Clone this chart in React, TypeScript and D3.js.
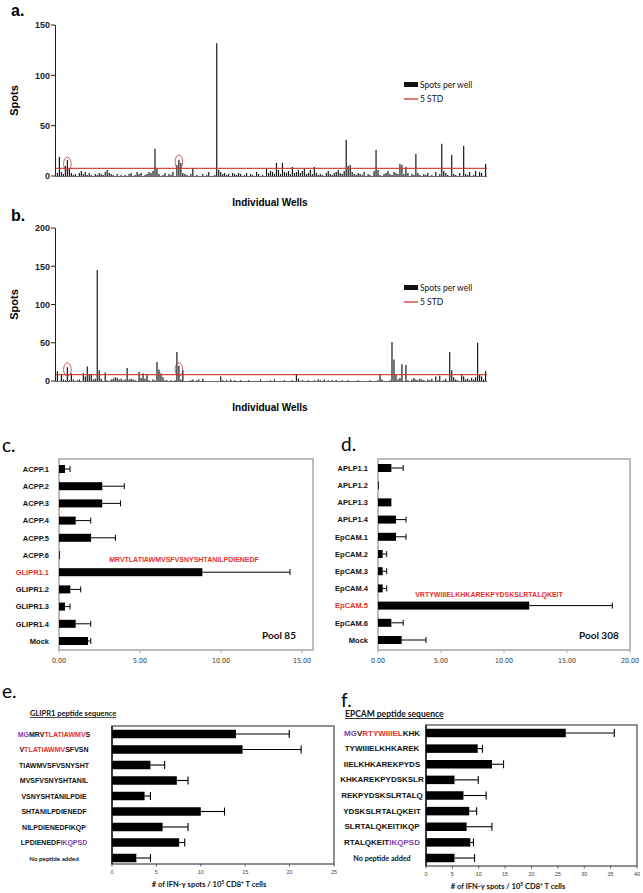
import React from "react";
import * as d3 from "d3";

// ---------- Panel a / b: spots per well ----------
const wellsA = [
  3, 19, 4, 2, 10, 16, 8, 3, 1, 2, 0, 3,
  5, 2, 4, 1, 3, 1, 0, 2, 1, 3, 2, 1,
  4, 6, 3, 2, 1, 0, 2, 0, 1, 0, 1, 0,
  2, 3, 0, 1, 4, 2, 3, 0, 1, 2, 4, 3,
  5, 27, 8, 2, 0, 1, 3, 0, 2, 1, 4, 0,
  11, 16, 13, 3, 2, 1, 0, 2, 8, 0, 1, 0,
  0, 2, 0, 1, 4, 0, 0, 1, 132, 6, 4, 2,
  3, 1, 2, 0, 3, 2, 1, 3, 2, 0, 1, 3,
  0, 2, 1, 0, 4, 2, 0, 1, 0, 7, 3, 5,
  4, 2, 13, 6, 2, 13, 4, 3, 5, 2, 9, 3,
  4, 6, 3, 5, 8, 2, 3, 6, 2, 9, 3, 1,
  2, 1, 0, 3, 5, 2, 1, 3, 4, 6, 3, 2,
  5, 36, 10, 11, 4, 2, 1, 3, 2, 1, 4, 0,
  2, 1, 0, 5, 26, 6, 1, 0, 2, 3, 5, 2,
  1, 4, 3, 2, 12, 11, 2, 9, 3, 0, 2, 1,
  22, 3, 1, 0, 2, 1, 3, 0, 1, 0, 4, 0,
  2, 32, 5, 3, 1, 0, 21, 2, 1, 0, 3, 0,
  30, 2, 1, 4, 0, 1, 5, 0, 4, 3, 0, 12,
];
const wellsB = [
  13, 0, 8, 2, 1, 18, 1, 10, 2, 0, 1, 2,
  0, 10, 6, 19, 9, 9, 2, 3, 145, 14, 3, 0,
  11, 1, 0, 2, 3, 5, 4, 2, 3, 1, 2, 17,
  2, 3, 2, 1, 0, 12, 4, 10, 3, 9, 1, 0,
  2, 1, 25, 15, 10, 5, 1, 1, 0, 1, 0, 1,
  38, 20, 2, 14, 0, 0, 0, 1, 2, 0, 1, 2,
  0, 3, 0, 0, 0, 0, 0, 0, 0, 0, 6, 1,
  0, 1, 0, 2, 0, 1, 0, 0, 1, 0, 0, 0,
  1, 0, 0, 0, 0, 0, 2, 0, 0, 0, 0, 1,
  0, 2, 0, 0, 0, 0, 1, 0, 0, 0, 1, 0,
  9, 3, 0, 1, 0, 0, 1, 0, 0, 1, 0, 2,
  1, 0, 2, 0, 1, 0, 1, 0, 1, 0, 0, 1,
  0, 0, 1, 0, 0, 0, 0, 1, 0, 0, 0, 0,
  0, 1, 0, 0, 0, 1, 9, 2, 0, 0, 0, 1,
  51, 28, 8, 2, 4, 22, 0, 21, 1, 0, 2, 4,
  2, 1, 3, 2, 1, 0, 2, 1, 3, 0, 6, 1,
  7, 0, 1, 3, 0, 38, 14, 5, 2, 1, 0, 9,
  6, 2, 3, 1, 4, 2, 5, 50, 8, 6, 2, 13,
];
const thresholdA = 7.6;
const thresholdB = 8.3;
const ticksA = [0, 50, 100, 150];
const ticksB = [0, 50, 100, 150, 200];
// circled wells: [index, value]
const circlesA = [[5, 12], [61, 14]];
const circlesB = [[5, 15], [61, 15]];

// ---------- Panel c ----------
const labelsC = ["ACPP.1", "ACPP.2", "ACPP.3", "ACPP.4", "ACPP.5", "ACPP.6", "GLIPR1.1", "GLIPR1.2", "GLIPR1.3", "GLIPR1.4", "Mock"];
const valuesC = [0.37, 2.67, 2.67, 1.03, 1.98, 0, 8.85, 0.7, 0.37, 1.03, 1.79];
const errorsC = [0.31, 1.36, 1.13, 0.93, 1.5, 0, 5.41, 0.64, 0.31, 0.93, 0.17];
const ticksC = [0, 5, 10, 15];

// ---------- Panel d ----------
const labelsD = ["APLP1.1", "APLP1.2", "APLP1.3", "APLP1.4", "EpCAM.1", "EpCAM.2", "EpCAM.3", "EpCAM.4", "EpCAM.5", "EpCAM.6", "Mock"];
const valuesD = [1.06, 0, 1.06, 1.43, 1.43, 0.37, 0.37, 0.37, 12.0, 1.06, 1.88];
const errorsD = [0.94, 0, 0, 0.79, 0.79, 0.32, 0.32, 0.32, 6.6, 0.94, 1.93];
const ticksD = [0, 5, 10, 15, 20];

// ---------- Panel e ----------
const PURPLE = "#7b3fa8";
const RED = "#e8302a";
const labelsE = [
  [["MG", PURPLE], ["MRV", "#111"], ["TLATIAWMV", RED], ["S", "#111"]],
  [["V", "#111"], ["TLATIAWMV", RED], ["SFVSN", "#111"]],
  [["TIAWMVSFVSNYSHT", "#111"]],
  [["MVSFVSNYSHTANIL", "#111"]],
  [["VSNYSHTANILPDIE", "#111"]],
  [["SHTANILPDIENEDF", "#111"]],
  [["NILPDIENEDFIKQP", "#111"]],
  [["LPDIENEDF", "#111"], ["IKQPSD", PURPLE]],
  [["No peptide added", "#111"]],
];
const valuesE = [13.96, 14.7, 4.33, 7.3, 3.67, 10.0, 5.7, 7.56, 2.74];
const errorsE = [6.0, 6.6, 1.6, 1.26, 0.66, 2.67, 2.86, 0.63, 1.59];
const ticksE = [0, 5, 10, 15, 20, 25];

// ---------- Panel f ----------
const labelsF = [
  [["MG", PURPLE], ["V", "#111"], ["RTYWIIIEL", RED], ["KHK", "#111"]],
  [["TYWIIIELKHKAREK", "#111"]],
  [["IIELKHKAREKPYDS", "#111"]],
  [["KHKAREKPYDSKSLR", "#111"]],
  [["REKPYDSKSLRTALQ", "#111"]],
  [["YDSKSLRTALQKEIT", "#111"]],
  [["SLRTALQKEITIKQP", "#111"]],
  [["RTALQKEIT", "#111"], ["IKQPSD", PURPLE]],
  [["No peptide added", "#111"]],
];
const valuesF = [26.5, 9.8, 12.5, 5.4, 7.1, 8.2, 7.7, 8.4, 5.4];
const errorsF = [9.2, 0.9, 2.2, 4.5, 4.3, 1.4, 4.8, 0.6, 3.8];
const ticksF = [0, 5, 10, 15, 20, 25, 30, 35, 40];

const ARIAL = "Liberation Sans, Arial, sans-serif";
const NARROW = "Liberation Sans Narrow, DejaVu Sans Condensed, Arial, sans-serif";
const LATO = "Lato, Carlito, sans-serif";

function SpotsPanel({ data, ticks, yMax, top, bottom, threshold, circles, letter, letterY, wellsY }) {
  const x = d3.scaleBand().domain(d3.range(data.length)).range([56, 487]).padding(0.42);
  const y = d3.scaleLinear().domain([0, yMax]).range([bottom, top]);
  return (
    <g>
      <text x={11} y={letterY} fontFamily={ARIAL} fontWeight="bold" fontSize={16}>{letter}</text>
      {data.map((v, i) => (
        <rect key={i} x={x(i)} width={x.bandwidth()} y={y(v)} height={bottom - y(v)} fill="#111" />
      ))}
      <line x1={55} x2={487} y1={bottom + 0.5} y2={bottom + 0.5} stroke="#666" strokeWidth={1} />
      <line x1={55} x2={487} y1={y(threshold)} y2={y(threshold)} stroke="#d0342f" strokeWidth={1.4} strokeOpacity={0.9} />
      <line x1={55.5} x2={55.5} y1={top} y2={bottom} stroke="#222" strokeWidth={1} />
      {ticks.map((t) => (
        <g key={t}>
          <line x1={51} x2={55} y1={y(t)} y2={y(t)} stroke="#222" />
          <text x={50} y={y(t) + 3.3} textAnchor="end" fontFamily={ARIAL} fontWeight="bold" fontSize={9} fill="#222">{t}</text>
        </g>
      ))}
      {circles.map(([i, v], k) => (
        <ellipse key={k} cx={x(i) + x.bandwidth() / 2} cy={y(v)} rx={3.8} ry={6.8} fill="none" stroke="#b83a3a" strokeWidth={0.8} />
      ))}
      <text transform={`translate(18,${(top + bottom) / 2}) rotate(-90)`} textAnchor="middle" fontFamily={ARIAL} fontWeight="bold" fontSize={11}>Spots</text>
      <text x={270} y={wellsY} textAnchor="middle" fontFamily={ARIAL} fontWeight="bold" fontSize={10}>Individual Wells</text>
      {/* legend */}
      <rect x={404} y={top + 57} width={14} height={5} fill="#111" />
      <text x={420} y={top + 62.5} fontFamily={LATO} fontSize={8.5} fill="#111">Spots per well</text>
      <line x1={404} x2={418} y1={top + 74} y2={top + 74} stroke="#d0342f" strokeWidth={1.3} />
      <text x={420} y={top + 77} fontFamily={LATO} fontSize={8.5} fill="#111">5 STD</text>
    </g>
  );
}

function PoolPanel({ labels, values, errors, ticks, x0, x1, xMaxPx, domainMax, top, bottom, rowTop, rowBottom, hiIndex, seq, seqX, seqY, pool, poolX, letter, letterX, letterY }) {
  const x = d3.scaleLinear().domain([0, domainMax]).range([x0, xMaxPx]);
  const y = d3.scalePoint().domain(labels).range([rowTop, rowBottom]);
  const bh = 8;
  return (
    <g>
      <text x={letterX} y={letterY} fontFamily={LATO} fontSize={19}>{letter}</text>
      <rect x={x0} y={top} width={x1 - x0} height={bottom - top} fill="none" stroke="#a6a6a6" strokeWidth={1.5} />
      {ticks.map((t) => (
        <g key={t}>
          <line x1={x(t)} x2={x(t)} y1={bottom} y2={bottom + 3} stroke="#a6a6a6" />
          <text x={x(t)} y={bottom + 13} textAnchor="middle" fontFamily={NARROW} fontSize={7} fill="#333">{t.toFixed(2)}</text>
        </g>
      ))}
      {labels.map((l, i) => {
        const cy = y(l);
        const v = values[i];
        const e = errors[i];
        return (
          <g key={l}>
            <text x={x0 - 10} y={cy + 2.8} textAnchor="end" fontFamily={ARIAL} fontWeight="bold" fontSize={7.5} fill={i === hiIndex ? RED : "#111"}>{l}</text>
            <rect x={x0} y={cy - bh / 2} width={Math.max(x(v) - x0, 0.8)} height={bh} fill="#000" />
            {e > 0 && (
              <g stroke="#000" strokeWidth={1}>
                <line x1={x(v)} x2={x(v + e)} y1={cy} y2={cy} />
                <line x1={x(v + e)} x2={x(v + e)} y1={cy - 3} y2={cy + 3} />
              </g>
            )}
          </g>
        );
      })}
      <text x={seqX} y={seqY} textAnchor="middle" fontFamily={ARIAL} fontWeight="bold" fontSize={7} fill={RED}>{seq}</text>
      <text x={poolX} y={bottom - 11} fontFamily={LATO} fontWeight="bold" fontSize={10} fill="#111">{pool}</text>
    </g>
  );
}

function PeptidePanel({ labels, values, errors, ticks, domainMax, x0, x1, top, bottom, rowTop, rowBottom, labelX, labelSize, title, titleX, titleY, titleSize, letter, letterX, letterY, axisTitleX }) {
  const x = d3.scaleLinear().domain([0, domainMax]).range([x0, x1]);
  const y = d3.scalePoint().domain(d3.range(labels.length)).range([rowTop, rowBottom]);
  const bh = 8.5;
  return (
    <g>
      <text x={letterX} y={letterY} fontFamily={LATO} fontSize={19}>{letter}</text>
      <text x={titleX} y={titleY} fontFamily={LATO} fontWeight="bold" fontSize={titleSize} textDecoration="underline" fill="#111">{title}</text>
      <rect x={x0} y={top} width={x1 - x0} height={bottom - top} fill="none" stroke="#555" strokeWidth={1.3} />
      <line x1={x0} x2={x0} y1={top} y2={bottom} stroke="#222" strokeWidth={1.6} />
      {ticks.map((t) => (
        <g key={t}>
          <line x1={x(t)} x2={x(t)} y1={bottom} y2={bottom + 2.5} stroke="#555" />
          <text x={x(t)} y={bottom + 9.5} textAnchor="middle" fontFamily={ARIAL} fontSize={5.5} fill="#444">{t}</text>
        </g>
      ))}
      {labels.map((parts, i) => {
        const cy = y(i);
        const v = values[i];
        const e = errors[i];
        const last = i === labels.length - 1;
        return (
          <g key={i}>
            <text x={labelX} y={cy + 2.6} textAnchor="middle" fontFamily={last ? LATO : ARIAL} fontWeight="bold" fontSize={last ? labelSize - 0.8 : labelSize}>
              {parts.map(([s, c], k) => (
                <tspan key={k} fill={c}>{s}</tspan>
              ))}
            </text>
            <rect x={x0} y={cy - bh / 2} width={x(v) - x0} height={bh} fill="#000" />
            <g stroke="#000" strokeWidth={1.1}>
              <line x1={x(v)} x2={x(v + e)} y1={cy} y2={cy} />
              <line x1={x(v + e)} x2={x(v + e)} y1={cy - 4} y2={cy + 4} />
            </g>
          </g>
        );
      })}
      <text x={axisTitleX} y={bottom + 23} textAnchor="middle" fontFamily={LATO} fontWeight="bold" fontSize={7.5} fill="#111">
        # of IFN-γ spots / 10<tspan fontSize={5} dy={-3}>5</tspan><tspan dy={3}> CD8</tspan><tspan fontSize={5} dy={-3}>+</tspan><tspan dy={3}> T cells</tspan>
      </text>
    </g>
  );
}

export default function App() {
  return (
    <svg width={643} height={893} viewBox="0 0 643 893" style={{ position: "absolute", left: 0, top: 0, background: "#fff" }}>
      <rect width={643} height={893} fill="#fff" />
      <SpotsPanel data={wellsA} ticks={ticksA} yMax={150} top={25} bottom={176} threshold={thresholdA} circles={circlesA} letter="a." letterY={16} wellsY={206} />
      <SpotsPanel data={wellsB} ticks={ticksB} yMax={200} top={228} bottom={381} threshold={thresholdB} circles={circlesB} letter="b." letterY={221} wellsY={411} />
      <PoolPanel labels={labelsC} values={valuesC} errors={errorsC} ticks={ticksC} x0={59} x1={313} xMaxPx={302} domainMax={15}
        top={459} bottom={650} rowTop={469} rowBottom={641} hiIndex={6}
        seq="MRVTLATIAWMVSFVSNYSHTANILPDIENEDF" seqX={184} seqY={562} pool="Pool 85" poolX={262}
        letter="c." letterX={2} letterY={452} />
      <PoolPanel labels={labelsD} values={valuesD} errors={errorsD} ticks={ticksD} x0={378} x1={630} xMaxPx={630} domainMax={20}
        top={459} bottom={650} rowTop={468} rowBottom={640} hiIndex={8}
        seq="VRTYWIIIELKHKAREKPYDSKSLRTALQKEIT" seqX={489} seqY={597} pool="Pool 308" poolX={579}
        letter="d." letterX={341} letterY={451} />
      <PeptidePanel labels={labelsE} values={valuesE} errors={errorsE} ticks={ticksE} domainMax={25} x0={112} x1={334}
        top={726} bottom={864} rowTop={734} rowBottom={858} labelX={54} labelSize={7}
        title="GLIPR1 peptide sequence" titleX={30} titleY={716} titleSize={7.5}
        letter="e." letterX={2} letterY={698} axisTitleX={209} />
      <PeptidePanel labels={labelsF} values={valuesF} errors={errorsF} ticks={ticksF} domainMax={40} x0={426} x1={637}
        top={725} bottom={866} rowTop={733} rowBottom={858} labelX={382} labelSize={8}
        title="EPCAM peptide sequence" titleX={345} titleY={717} titleSize={8.5}
        letter="f." letterX={341} letterY={707} axisTitleX={508} />
    </svg>
  );
}
